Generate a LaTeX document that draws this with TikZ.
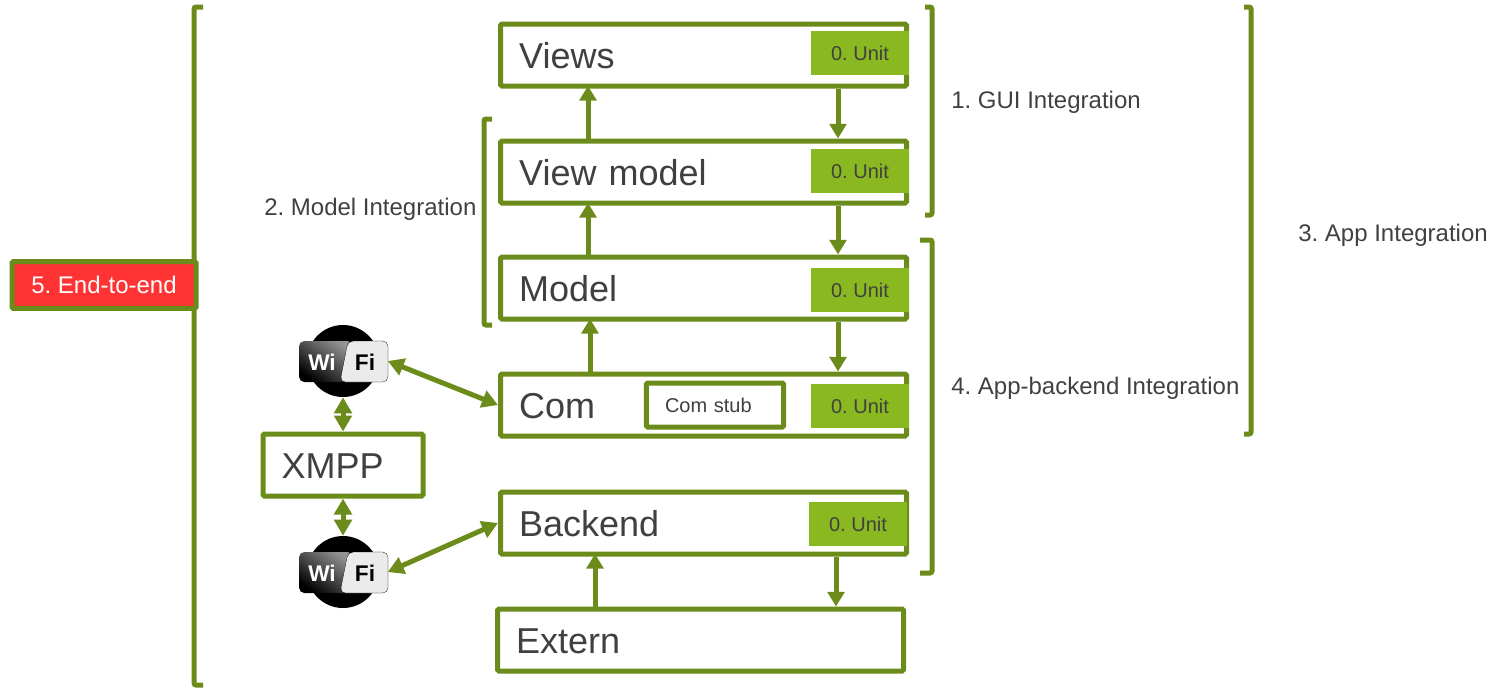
\documentclass[tikz,border=0pt]{standalone}
\usepackage{fontspec}
\setmainfont{Liberation Sans}
\usetikzlibrary{arrows.meta}
\frenchspacing
\definecolor{olivegreen}{HTML}{6B8C1A}
\definecolor{unitgreen}{HTML}{8AB821}
\definecolor{endred}{HTML}{FF3333}
\definecolor{textgray}{HTML}{404040}
\tikzset{
  layerbox/.style={draw=olivegreen,line width=3.75pt,fill=white,rounded corners=1pt,text=textgray,
    minimum width=304.5pt,minimum height=46.5pt,inner xsep=14pt,inner ysep=0pt,
    text width=276.5pt,align=left,text height=20.5pt,text depth=0pt,font=\fontsize{27}{30}\selectfont},
  stubbox/.style={draw=olivegreen,line width=3.75pt,fill=white,rounded corners=1pt,text=textgray,
    minimum width=103pt,minimum height=33pt,inner xsep=14pt,inner ysep=0pt,
    text width=75pt,align=left,font=\fontsize{15}{18}\selectfont},
  unitbox/.style={fill=unitgreen,text=textgray,minimum width=73.5pt,minimum height=33pt,inner sep=0pt,
    font=\fontsize{15}{18}\selectfont},
  label/.style={anchor=west,text=textgray,inner sep=0pt,font=\fontsize{18}{21}\selectfont},
  bracket/.style={draw=olivegreen,line width=3.75pt,rounded corners=1.5pt},
  flow/.style={draw=olivegreen,line width=3.75pt,-{Triangle[width=12.5pt,length=11pt]}},
  upflow/.style={flow,shorten >=-2pt},
  both/.style={draw=olivegreen,line width=3.75pt,{Triangle[width=13pt,length=12pt]}-{Triangle[width=13pt,length=12pt]}},
  wifitext/.style={inner sep=0pt,font=\fontsize{17}{20}\selectfont\bfseries}
}
\newcommand{\wifiicon}[3]{%
  \fill[black] (#2,#3) circle (27pt);%ball
  \shade[top color=gray!85,bottom color=black,shading angle=-35,rounded corners=4pt] (#2-44,#3-20) rectangle (#2+10,#3+21);%dark side
  \fill[black!8,draw=black,very thin,rounded corners=4pt] (#2+5,#3-20) -- (#2+45,#3-20) -- (#2+45,#3+21) -- (#2-3,#3+21) -- cycle;%light side
  \node[inner sep=0pt,minimum width=66.75pt,minimum height=54pt] (#1) at (#2,#3) {};
  \node[wifitext,text=white] (#1wi) at (#2-21,#3+1) {Wi};
  \node[wifitext,text=black] (#1fi) at (#2+22,#3+1) {Fi};
}
\begin{document}
\begin{tikzpicture}[x=0.75pt,y=-0.75pt]
\useasboundingbox (0,0) rectangle (1498,687);
%brackets
\draw[bracket] (203,7) -- (194,7) -- (194,685) -- (203,685);%end-to-end
\draw[bracket] (925,7) -- (932,7) -- (932,215) -- (925,215);%GUI
\draw[bracket] (1244,7) -- (1251,7) -- (1251,434) -- (1244,434);%app
\draw[bracket] (492,119) -- (484,119) -- (484,325) -- (492,325);%model
\draw[bracket] (920,240) -- (932,240) -- (932,573) -- (920,573);%backend
%layers
\node[layerbox] (views) at (703.5,55) {Views};
\node[layerbox] (viewmodel) at (703.5,172) {View model};
\node[layerbox] (model) at (703.5,288) {Model};
\node[layerbox] (com) at (703.5,405) {Com};
\node[layerbox] (backend) at (703.5,523) {Backend};
\node[layerbox] (extern) at (700.5,640) {Extern};
\node[layerbox,minimum width=120pt,text width=92pt] (xmpp) at (343,465) {XMPP};
%unit tests
\node[unitbox] (viewsunit) at (860,53) {\raisebox{-0.75pt}{0. Unit}};
\node[unitbox] (viewmodelunit) at (860,171) {\raisebox{-0.75pt}{0. Unit}};
\node[unitbox] (modelunit) at (860,290) {0. Unit};
\node[unitbox] (comunit) at (860,406) {0. Unit};
\node[unitbox] (backendunit) at (858,524) {0. Unit};
\node[stubbox] (comstub) at (715,405) {Com stub};
%wifi
\wifiicon{wifitop}{343}{361}
\wifiicon{wifibottom}{343}{572}
%up
\draw[upflow] (588,0 |- viewmodel.north) -- (588,0 |- views.south);
\draw[upflow] (588,0 |- model.north) -- (588,0 |- viewmodel.south);
\draw[upflow] (590,0 |- com.north) -- (590,0 |- model.south);
\draw[upflow] (595,0 |- extern.north) -- (595,0 |- backend.south);
%down
\draw[flow] (838,0 |- views.south) -- (838,0 |- viewmodel.north);
\draw[flow] (838,0 |- viewmodel.south) -- (838,0 |- model.north);
\draw[flow] (838,0 |- model.south) -- (838,0 |- com.north);
\draw[flow] (836,0 |- backend.south) -- (836,0 |- extern.north);
%xmpp links
\draw[both] (wifitop.east) -- (com.west);
\draw[both] (wifibottom.east) -- (backend.west);
\draw[both] (wifitop.south) -- (xmpp.north);
\draw[both] (xmpp.south) -- (wifibottom.north);
%labels
\node[label] (guilabel) at (951,102) {1. GUI Integration};
\node[label] (modellabel) at (264,209) {2. Model Integration};
\node[label] (applabel) at (1298,235) {3. App Integration};
\node[label] (backendlabel) at (951,388) {4. App-backend Integration};
\node[draw=olivegreen,line width=3.75pt,fill=endred,text=white,rounded corners=1pt,minimum width=138pt,
  minimum height=35pt,inner sep=0pt,font=\fontsize{18}{21}\selectfont] (endlabel) at (104,285) {5. End-to-end};
\end{tikzpicture}
\end{document}
